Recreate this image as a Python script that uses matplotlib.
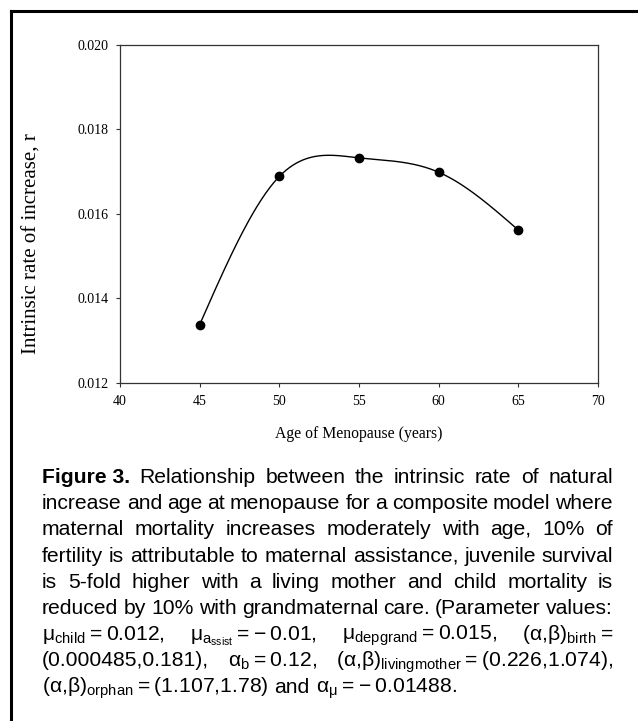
import numpy as np
import matplotlib
matplotlib.use("Agg")
import matplotlib.pyplot as plt
from matplotlib.lines import Line2D

# data
age = [45, 50, 55, 60, 65]
rate = [0.01337, 0.01688, 0.01732, 0.01698, 0.01561]
xticks = [40, 45, 50, 55, 60, 65, 70]
yticks = [0.012, 0.014, 0.016, 0.018, 0.020]

caption = [
    [("Figure 3.", "bold"), "Relationship", "between", "the", "intrinsic", "rate", "of", "natural"],
    ["increase", "and", "age", "at", "menopause", "for", "a", "composite", "model", "where"],
    ["maternal", "mortality", "increases", "moderately", "with", "age,", "10%", "of"],
    ["fertility", "is", "attributable", "to", "maternal", "assistance,", "juvenile", "survival"],
    ["is", "5-fold", "higher", "with", "a", "living", "mother", "and", "child", "mortality", "is"],
    ["reduced", "by", "10%", "with", "grandmaternal", "care.", "(Parameter", "values:"],
    ["μ$_{\\mathrm{child}}$\u2009=\u20090.012,",
     "μ$_{\\mathrm{a}_{\\mathrm{ssist}}}$\u2009=\u2009\u2212\u20090.01,",
     "μ$_{\\mathrm{depgrand}}$\u2009=\u20090.015,",
     "(α,β)$_{\\mathrm{birth}}$\u2009="],
    ["(0.000485,0.181),", "α$_{\\mathrm{b}}$\u2009=\u20090.12,",
     "(α,β)$_{\\mathrm{livingmother}}$\u2009=\u2009(0.226,1.074),"],
    ["(α,β)$_{\\mathrm{orphan}}$\u2009=\u2009(1.107,1.78)", "and",
     "α$_{\\mathrm{μ}}$\u2009=\u2009\u2212\u20090.01488."],
]

sans = "Liberation Sans"
serif = "Liberation Serif"
plt.rcParams["mathtext.fontset"] = "custom"
plt.rcParams["mathtext.rm"] = sans
plt.rcParams["mathtext.it"] = sans + ":italic"
plt.rcParams["mathtext.bf"] = sans + ":bold"
plt.rcParams["mathtext.sf"] = sans


def natural_spline(x, y, n=300):
    x = np.asarray(x, float)
    y = np.asarray(y, float)
    h = np.diff(x)
    m = len(x)
    A = np.zeros((m, m))
    b = np.zeros(m)
    A[0, 0] = A[-1, -1] = 1
    for i in range(1, m - 1):
        A[i, i - 1] = h[i - 1]
        A[i, i] = 2 * (h[i - 1] + h[i])
        A[i, i + 1] = h[i]
        b[i] = 6 * ((y[i + 1] - y[i]) / h[i] - (y[i] - y[i - 1]) / h[i - 1])
    M = np.linalg.solve(A, b)
    xs = np.linspace(x[0], x[-1], n)
    k = np.clip(np.searchsorted(x, xs) - 1, 0, m - 2)
    t0 = xs - x[k]
    t1 = x[k + 1] - xs
    hk = h[k]
    ys = (M[k] * t1**3 + M[k + 1] * t0**3) / (6 * hk) \
        + (y[k] / hk - M[k] * hk / 6) * t1 + (y[k + 1] / hk - M[k + 1] * hk / 6) * t0
    return xs, ys


W, H = 638, 721
fig = plt.figure(figsize=(W / 100, H / 100), dpi=100)
ax_top, ax_bot = 44.7, 382.5
ax_h = ax_bot - ax_top
ax = fig.add_axes([120 / W, 1 - ax_bot / H, 478 / W, ax_h / H])

xs, ys = natural_spline(age, rate)
ax.plot(xs, ys, color="black", lw=1.0)
ax.plot(age, rate, "o", color="black", ms=6)

ax.set_xlim(40, 70)
ax.set_ylim(0.012, 0.020)
ax.set_xticks(xticks)
ax.set_yticks(yticks)
ax.set_yticklabels(["%.3f" % v for v in yticks])
for s in ax.spines.values():
    s.set_color("#333333")
    s.set_linewidth(0.9)
ax.tick_params(direction="out", length=3, width=0.8, color="#333333",
               labelsize=10, labelfontfamily=serif)
ax.tick_params(axis="y", pad=5)
ax.tick_params(axis="x", pad=6)
ax.set_xlabel("Age of Menopause (years)", family=serif, fontsize=11.3, va="baseline")
ax.set_ylabel("Intrinsic rate of increase, r", family=serif, fontsize=15)
ax.xaxis.set_label_coords(0.5, -(438 - ax_bot) / ax_h, transform=ax.transAxes)
ax.yaxis.set_label_coords(-(120 - 42) / 478, (ax_bot - 244) / ax_h, transform=ax.transAxes)

# page frame (top and left edges)
fig.add_artist(Line2D([11 / W, 1], [1 - 11 / H, 1 - 11 / H], color="black", lw=2.2,
                      transform=fig.transFigure))
fig.add_artist(Line2D([11 / W, 11 / W], [0, 1 - 11 / H], color="black", lw=2.2,
                      transform=fig.transFigure))

# justified caption
left, right = 42.0, 613.0
base0, step = 483.0, 26.2
renderer = fig.canvas.get_renderer()

rows = []
for line in caption:
    row = []
    for tok in line:
        weight = "normal"
        if isinstance(tok, tuple):
            tok, weight = tok
        t = fig.text(0, 0, tok, family=sans, weight=weight, fontsize=10,
                     va="baseline", ha="left", transform=None)
        row.append(t)
    rows.append(row)


def natural_width(row, fs):
    ws = [t.get_window_extent(renderer).width for t in row]
    return sum(ws) + 0.22 * fs * 100 / 72 * (len(row) - 1)


fs0 = 10
maxw = max(natural_width(r, fs0) for r in rows)
fs = min(16.0, fs0 * (right - left) / maxw)
for r in rows:
    for t in r:
        t.set_fontsize(fs)

space = 0.28 * fs * 100 / 72
for i, r in enumerate(rows):
    ws = [t.get_window_extent(renderer).width for t in r]
    if i == len(rows) - 1:
        gap = space
    else:
        gap = (right - left - sum(ws)) / (len(r) - 1)
    x = left
    y = H - (base0 + i * step)
    for t, w in zip(r, ws):
        t.set_position((x, y))
        x += w + gap

fig.savefig("out.png", dpi=100)
